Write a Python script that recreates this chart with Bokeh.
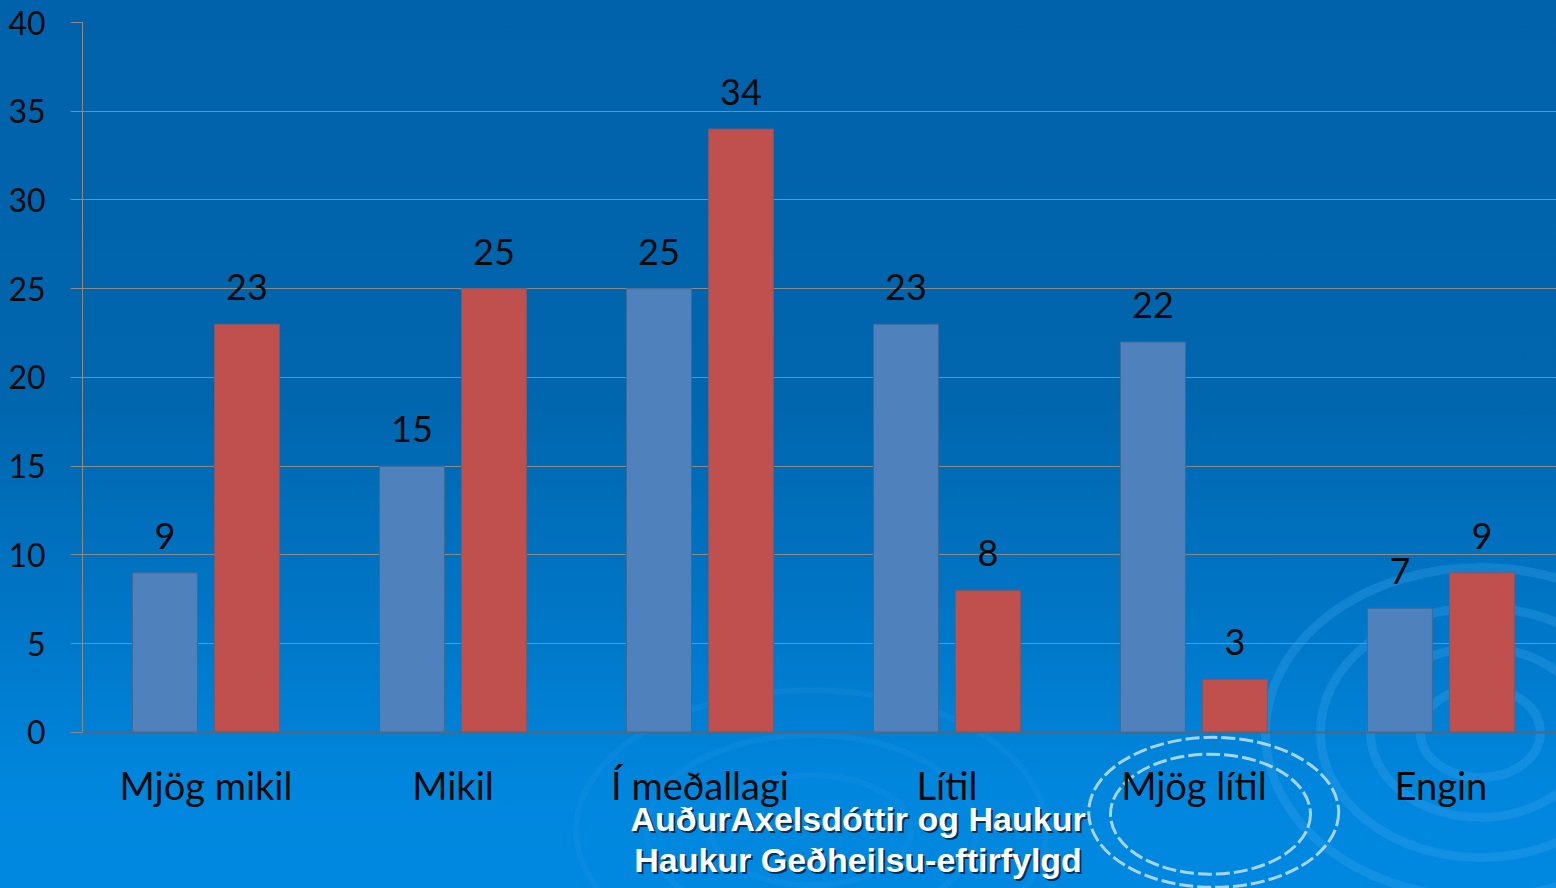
import numpy as np
from bokeh.plotting import figure
from bokeh.models import (Range1d, FixedTicker, LabelSet, Label, ColumnDataSource,
                          GlobalInlineStyleSheet, Span)
from bokeh.core.properties import value
from bokeh.embed import file_html
from bokeh.resources import INLINE

# ---- data ----
categories = ["Mjög mikil", "Mikil", "Í meðallagi", "Lítil", "Mjög lítil", "Engin"]
series_blue = [9, 15, 25, 23, 22, 7]
series_red = [23, 25, 34, 8, 3, 9]
y_ticks = [0, 5, 10, 15, 20, 25, 30, 35, 40]
footer_lines = ["AuðurAxelsdóttir og Haukur", "Haukur Geðheilsu-eftirfylgd"]

W, H = 1556, 888
FONT = "Lato"

# frame spans the whole lower area so that category labels and footer sit inside it
p = figure(width=W, height=H, output_backend="svg", toolbar_location=None,
           x_range=Range1d(0, 5.968), y_range=Range1d(-8.789, 40),
           min_border_left=82, min_border_right=0, min_border_top=22,
           min_border_bottom=0)

p.background_fill_alpha = 0
p.border_fill_alpha = 0
p.outline_line_color = None
p.styles = {"background": "linear-gradient(to bottom, #0062aa 0%, #0066ae 45%, #0078c9 72%, #0086dd 88%, #0088e0 100%)"}
p.stylesheets = [GlobalInlineStyleSheet(css="html, body {margin:0 !important; padding:0; background:#0088e0; overflow:hidden;}")]

# ---- decorative ripples (background) ----
p.ellipse(x=[5.66] * 4, y=[0.0] * 4, width=[120, 220, 320, 430], height=[90, 170, 250, 330],
          width_units="screen", height_units="screen", fill_color=None,
          line_color="#3aa6f0", line_alpha=0.3, line_width=9)
p.ellipse(x=[2.95] * 3, y=[-5.5] * 3, width=[200, 330, 470], height=[110, 190, 280],
          width_units="screen", height_units="screen", fill_color=None,
          line_color="#2a9cec", line_alpha=0.18, line_width=6)
p.ellipse(x=[4.567, 4.58], y=[-4.6, -4.5], width=[200, 250], height=[120, 150],
          width_units="screen", height_units="screen", fill_color=None,
          line_color="white", line_alpha=0.65, line_width=3, line_dash="14 4")

# ---- bars ----
centers = np.arange(len(categories)) + 0.5
off = 0.166
bw = 0.263

src_b = ColumnDataSource(dict(x=centers - off, top=series_blue,
                              lab=[str(v) for v in series_blue]))
src_r = ColumnDataSource(dict(x=centers + off, top=series_red,
                              lab=[str(v) for v in series_red]))

p.vbar(x="x", top="top", width=bw, bottom=0, source=src_b,
       fill_color="#4f81bd", line_color="#3d6b99", line_width=1)
p.vbar(x="x", top="top", width=bw, bottom=0, source=src_r,
       fill_color="#c0504d", line_color="#7a5a6a", line_width=1)

for src in (src_b, src_r):
    p.add_layout(LabelSet(x="x", y="top", text="lab", source=src,
                          text_align="center", text_baseline="alphabetic",
                          y_offset=24, text_font=value(FONT), text_font_size=value("36px"),
                          text_color="#0a0a0a"))

# ---- category labels (x axis) ----
src_c = ColumnDataSource(dict(x=centers, y=[0] * len(categories), lab=categories))
p.add_layout(LabelSet(x="x", y="y", text="lab", source=src_c,
                      text_align="center", text_baseline="alphabetic",
                      y_offset=-68, text_font=value(FONT), text_font_size=value("38px"),
                      text_color="#0a0a0a"))

p.xaxis.visible = False
p.add_layout(Span(location=0, dimension="width", line_color="#50677f", line_width=2))

p.yaxis.ticker = FixedTicker(ticks=y_ticks)
p.yaxis.bounds = (0, 40)
p.yaxis.minor_tick_line_color = None
p.yaxis.major_tick_in = 0
p.yaxis.major_tick_out = 12
p.yaxis.major_tick_line_color = "#8a8a8a"
p.yaxis.axis_line_color = "#8a8a8a"
p.yaxis.major_label_text_font = FONT
p.yaxis.major_label_text_font_size = "32px"
p.yaxis.major_label_text_color = "#0a0a0a"
p.yaxis.major_label_standoff = 25

p.xgrid.grid_line_color = None
p.ygrid.grid_line_color = "#8a8a8a"
p.ygrid.grid_line_width = 1

# ---- footer text with shadow ----
fx = 3.14
for txt, fy in zip(footer_lines, [-4.90, -7.21]):
    p.add_layout(Label(x=fx, y=fy, text=txt, text_align="center",
                       text_baseline="alphabetic", x_offset=2, y_offset=-2,
                       text_font="Liberation Sans", text_font_style="bold",
                       text_font_size="34px", text_color="#06223f", text_alpha=0.85))
    p.add_layout(Label(x=fx, y=fy, text=txt, text_align="center",
                       text_baseline="alphabetic",
                       text_font="Liberation Sans", text_font_style="bold",
                       text_font_size="34px", text_color="white"))

open("out.html", "w").write(file_html(p, INLINE))
